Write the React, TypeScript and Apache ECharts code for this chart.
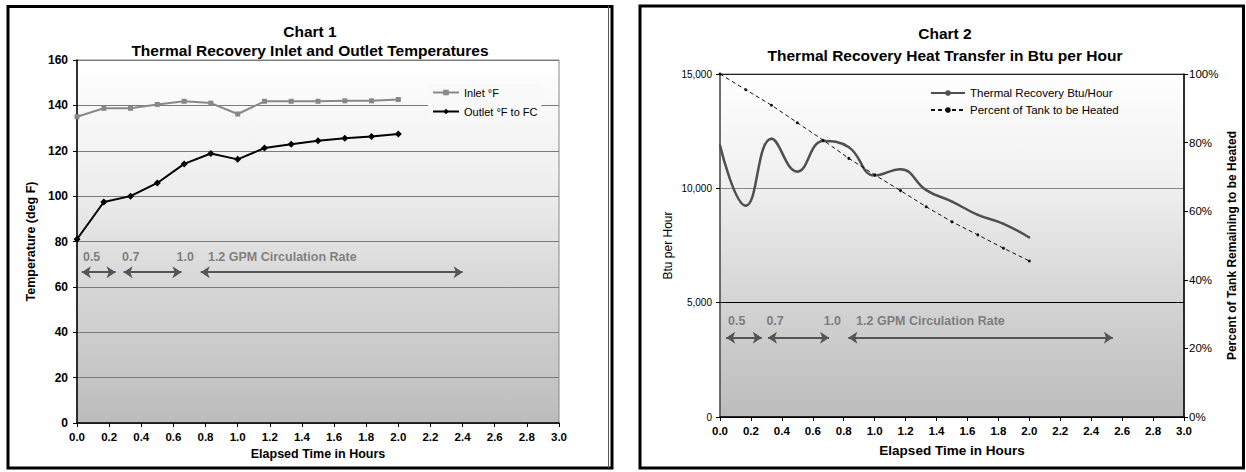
import React, { useEffect, useRef } from "react";
import * as echarts from "echarts";

// ---------- data ----------
const hours = [0, 0.167, 0.333, 0.5, 0.667, 0.833, 1.0, 1.167, 1.333, 1.5, 1.667, 1.833, 2.0];

// Chart 1
const inletF = [135, 138.7, 138.7, 140.4, 141.8, 141.0, 136.2, 141.8, 141.8, 141.8, 142.0, 142.0, 142.6];
const outletF = [81, 97.4, 100, 105.8, 114.2, 118.8, 116.2, 121.2, 122.9, 124.4, 125.5, 126.3, 127.4];

// Chart 2
const btuPerHour = [11880, 9240, 12170, 10730, 12070, 11800, 10560, 10840, 9920, 9420, 8840, 8450, 7850];
const pctRemaining = [1.0, 0.954, 0.909, 0.858, 0.807, 0.754, 0.706, 0.66, 0.613, 0.569, 0.531, 0.492, 0.455];

// Circulation-rate annotations
const rateLabels = ["0.5", "0.7", "1.0", "1.2 GPM Circulation Rate"];
const rateLabelX1 = [0.037, 0.28, 0.62, 0.815];
const rateLabelY1 = 73;
const rateArrows1 = [[0.03, 0.24], [0.29, 0.65], [0.77, 2.4]];
const rateArrowY1 = 66.5;

const rateLabelX2 = [0.052, 0.3, 0.67, 0.88];
const rateLabelY2 = 4210;
const rateArrows2 = [[0.04, 0.27], [0.31, 0.705], [0.83, 2.54]];
const rateArrowY2 = 3470;

const FONT = "'Liberation Sans', Arial, sans-serif";

function pairs(xs: number[], ys: number[]) {
  return xs.map((x, i) => [x, ys[i]]);
}

export default function App() {
  const ref = useRef<HTMLDivElement>(null);

  useEffect(() => {
    if (!ref.current) return;
    const chart = echarts.init(ref.current, null, { renderer: "svg" });

    const bg = () =>
      new echarts.graphic.LinearGradient(0, 0, 0, 1, [
        { offset: 0, color: "#ffffff" },
        { offset: 0.33, color: "#efefef" },
        { offset: 0.66, color: "#d4d4d4" },
        { offset: 1, color: "#bcbcbc" },
      ]);

    const annLabel = {
      show: true,
      position: "right",
      distance: 0,
      formatter: "{b}",
      color: "#666",
      fontSize: 12.5,
      fontWeight: "bold",
      fontFamily: FONT,
    };
    const arrowLine = (arrows: number[][], y: number) => ({
      silent: true,
      symbol: ["arrow", "arrow"],
      symbolSize: [9, 9],
      lineStyle: { color: "#555", width: 2, type: "solid" },
      label: { show: false },
      emphasis: { disabled: true },
      data: arrows.map(([a, b]) => [{ coord: [a, y] }, { coord: [b, y] }]),
    });

    const xLabel = { margin: 8, fontSize: 11.5, fontWeight: "bold", color: "#000", formatter: (v: number) => v.toFixed(1) };

    const option: any = {
      animation: false,
      textStyle: { fontFamily: FONT },
      title: [
        {
          text: "Chart 1\nThermal Recovery Inlet and Outlet Temperatures",
          left: 310,
          top: 22,
          textAlign: "center",
          padding: 0,
          textStyle: { fontSize: 15.5, fontWeight: "bold", color: "#000", lineHeight: 19, fontFamily: FONT },
        },
        {
          text: "Chart 2\nThermal Recovery Heat Transfer in Btu per Hour",
          left: 945,
          top: 22,
          textAlign: "center",
          padding: 0,
          textStyle: { fontSize: 15.5, fontWeight: "bold", color: "#000", lineHeight: 22, fontFamily: FONT },
        },
      ],
      legend: [
        {
          data: ["Inlet °F", "Outlet °F to FC"],
          orient: "vertical",
          left: 428,
          top: 84,
          padding: [3, 4],
          itemGap: 8,
          itemWidth: 26,
          itemHeight: 7,
          backgroundColor: "#f9f9f9",
          textStyle: { fontSize: 11, color: "#000", fontFamily: FONT },
        },
        {
          data: ["Thermal Recovery Btu/Hour", "Percent of Tank to be Heated"],
          orient: "vertical",
          left: 926,
          top: 84,
          padding: [3, 4],
          itemGap: 5,
          itemWidth: 34,
          itemHeight: 7,
          textStyle: { fontSize: 11.5, color: "#000", fontFamily: FONT },
        },
      ],
      grid: [
        {
          left: 77,
          top: 60,
          width: 482,
          height: 363,
          show: true,
          borderColor: "#888",
          borderWidth: 1,
          backgroundColor: bg(),
        },
        {
          left: 720,
          top: 74,
          width: 464,
          height: 343,
          show: true,
          borderColor: "#777",
          borderWidth: 1,
          backgroundColor: bg(),
        },
      ],
      xAxis: [
        {
          gridIndex: 0,
          type: "value",
          min: 0,
          max: 3,
          interval: 0.2,
          name: "Elapsed Time in Hours",
          nameLocation: "middle",
          nameGap: 23,
          nameTextStyle: { fontSize: 12.5, fontWeight: "bold", color: "#000", fontFamily: FONT },
          axisLine: { lineStyle: { color: "#000", width: 1.5 } },
          axisTick: { show: true, length: 4, lineStyle: { color: "#000" } },
          axisLabel: xLabel,
          splitLine: { show: false },
        },
        {
          gridIndex: 1,
          type: "value",
          min: 0,
          max: 3,
          interval: 0.2,
          name: "Elapsed Time in Hours",
          nameLocation: "middle",
          nameGap: 26,
          nameTextStyle: { fontSize: 13.5, fontWeight: "bold", color: "#000", fontFamily: FONT },
          axisLine: { lineStyle: { color: "#000", width: 1.5 } },
          axisTick: { show: true, length: 4, lineStyle: { color: "#000" } },
          axisLabel: xLabel,
          splitLine: { show: false },
        },
      ],
      yAxis: [
        {
          gridIndex: 0,
          type: "value",
          min: 0,
          max: 160,
          interval: 20,
          name: "Temperature (deg F)",
          nameLocation: "middle",
          nameGap: 40,
          nameTextStyle: { fontSize: 12.5, fontWeight: "bold", color: "#000", fontFamily: FONT },
          axisLine: { show: true, lineStyle: { color: "#000", width: 1.5 } },
          axisTick: { show: true, length: 4, lineStyle: { color: "#000" } },
          axisLabel: { margin: 9, fontSize: 12, fontWeight: "bold", color: "#000" },
          splitLine: { show: true, lineStyle: { color: "#7a7a7a", width: 1 } },
        },
        {
          gridIndex: 1,
          type: "value",
          min: 0,
          max: 15000,
          interval: 5000,
          name: "Btu per Hour",
          nameLocation: "middle",
          nameGap: 46,
          nameTextStyle: { fontSize: 12, color: "#000", fontFamily: FONT },
          axisLine: { show: true, lineStyle: { color: "#555", width: 1.5 } },
          axisTick: { show: true, length: 4, lineStyle: { color: "#000" } },
          axisLabel: {
            margin: 8,
            fontSize: 10,
            color: "#000",
            formatter: (v: number) => v.toLocaleString("en-US"),
          },
          splitLine: { show: true, lineStyle: { color: ["#000", "#000", "#888", "#222"], width: 1.2 } },
        },
        {
          gridIndex: 1,
          type: "value",
          position: "right",
          min: 0,
          max: 1,
          interval: 0.2,
          name: "Percent of Tank Remaining to be Heated",
          nameLocation: "middle",
          nameGap: 42,
          nameTextStyle: { fontSize: 12, fontWeight: "bold", color: "#000", fontFamily: FONT },
          axisLine: { show: true, lineStyle: { color: "#000", width: 1.5 } },
          axisTick: { show: true, length: 4, lineStyle: { color: "#000" } },
          axisLabel: {
            margin: 5,
            fontSize: 11.5,
            color: "#000",
            formatter: (v: number) => Math.round(v * 100) + "%",
          },
          splitLine: { show: false },
        },
      ],
      series: [
        {
          name: "Inlet °F",
          type: "line",
          xAxisIndex: 0,
          yAxisIndex: 0,
          data: pairs(hours, inletF),
          symbol: "rect",
          symbolSize: 5,
          color: "#888",
          lineStyle: { color: "#888", width: 2 },
          itemStyle: { color: "#888" },
        },
        {
          name: "Outlet °F to FC",
          type: "line",
          xAxisIndex: 0,
          yAxisIndex: 0,
          data: pairs(hours, outletF),
          symbol: "diamond",
          symbolSize: 7,
          color: "#000",
          lineStyle: { color: "#000", width: 2 },
          itemStyle: { color: "#000" },
        },
        {
          name: "Thermal Recovery Btu/Hour",
          type: "line",
          xAxisIndex: 1,
          yAxisIndex: 1,
          data: pairs(hours, btuPerHour),
          smooth: 0.45,
          symbol: "circle",
          symbolSize: 2,
          color: "#505050",
          lineStyle: { color: "#505050", width: 2.5 },
          itemStyle: { color: "#505050" },
        },
        {
          name: "Percent of Tank to be Heated",
          type: "line",
          xAxisIndex: 1,
          yAxisIndex: 2,
          data: pairs(hours, pctRemaining),
          symbol: "circle",
          symbolSize: 3,
          color: "#111",
          lineStyle: { color: "#111", width: 1, type: [4, 3] },
          itemStyle: { color: "#111" },
        },
        {
          name: "rates1",
          type: "scatter",
          xAxisIndex: 0,
          yAxisIndex: 0,
          symbolSize: 0,
          silent: true,
          data: rateLabels.map((t, i) => ({ name: t, value: [rateLabelX1[i], rateLabelY1] })),
          label: annLabel,
          markLine: arrowLine(rateArrows1, rateArrowY1),
        },
        {
          name: "rates2",
          type: "scatter",
          xAxisIndex: 1,
          yAxisIndex: 1,
          symbolSize: 0,
          silent: true,
          data: rateLabels.map((t, i) => ({ name: t, value: [rateLabelX2[i], rateLabelY2] })),
          label: annLabel,
          markLine: arrowLine(rateArrows2, rateArrowY2),
        },
      ],
      graphic: [
        {
          type: "rect",
          silent: true,
          shape: { x: 8, y: 6.5, width: 604, height: 461.5 },
          style: { fill: "none", stroke: "#000", lineWidth: 3 },
        },
        {
          type: "line",
          silent: true,
          shape: { x1: 608.5, y1: 6, x2: 608.5, y2: 468 },
          style: { stroke: "#555", lineWidth: 1 },
        },
        {
          type: "rect",
          silent: true,
          shape: { x: 640, y: 6, width: 603.5, height: 462 },
          style: { fill: "none", stroke: "#000", lineWidth: 3 },
        },
      ],
    };

    chart.setOption(option);
    return () => chart.dispose();
  }, []);

  return (
    <div
      ref={ref}
      style={{ position: "fixed", left: 0, top: 0, width: 1246, height: 472, background: "#fff" }}
    />
  );
}
